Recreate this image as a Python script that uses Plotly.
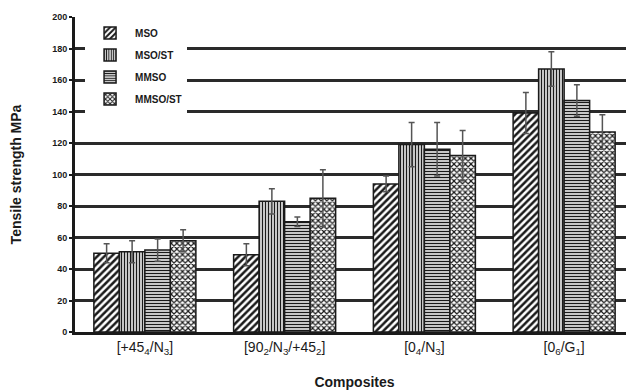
import plotly.graph_objects as go

categories = ["[+45<sub>4</sub>/N<sub>3</sub>]", "[90<sub>2</sub>/N<sub>3</sub>/+45<sub>2</sub>]",
              "[0<sub>4</sub>/N<sub>3</sub>]", "[0<sub>6</sub>/G<sub>1</sub>]"]
series_names = ["MSO", "MSO/ST", "MMSO", "MMSO/ST"]
mso = [50, 49, 94, 139]
mso_err = [6, 7, 5, 13]
mso_st = [51, 83, 119, 167]
mso_st_err = [7, 8, 14, 11]
mmso = [52, 70, 116, 147]
mmso_err = [7, 3, 17, 10]
mmso_st = [58, 85, 112, 127]
mmso_st_err = [7, 18, 16, 11]
y_ticks = list(range(0, 201, 20))

values = [mso, mso_st, mmso, mmso_st]
errors = [mso_err, mso_st_err, mmso_err, mmso_st_err]
patterns = [dict(shape="/", size=5, solidity=0.5),
            dict(shape="|", size=3, solidity=0.5),
            dict(shape="-", size=3, solidity=0.5),
            dict(shape="x", size=4, solidity=0.5)]

fig = go.Figure()
for i, name in enumerate(series_names):
    p = dict(patterns[i])
    p.update(fgcolor="#1a1a1a", bgcolor="white", fillmode="overlay", fgopacity=1)
    fig.add_trace(go.Bar(
        x=categories, y=values[i], name=name, legendgroup=name,
        marker=dict(color="white", line=dict(color="#1a1a1a", width=1.5), pattern=p),
        error_y=dict(type="data", array=errors[i], color="#555555", thickness=1.5, width=3),
    ))

# page body has an 8px default margin; size/margins compensate for it
fig.update_layout(
    width=626, height=384,
    margin=dict(l=67, r=0, t=9, b=60),
    paper_bgcolor="white", plot_bgcolor="white",
    barmode="group", bargap=0.27, bargroupgap=0,
    font=dict(family="Liberation Sans, Arial", color="#1a1a1a"),
    legend=dict(x=0.018, y=0.995, xanchor="left", yanchor="top",
                bgcolor="white", tracegroupgap=3,
                font=dict(size=10, family="Liberation Sans, Arial", weight="bold"),
                itemwidth=40),
    xaxis=dict(showline=True, linecolor="#1a1a1a", linewidth=3, automargin=False,
               tickfont=dict(size=14), ticks="", range=[-0.5, 3.5],
               title=dict(text="Composites", font=dict(size=14, weight="bold"), standoff=22)),
    yaxis=dict(range=[0, 200], tickvals=y_ticks, showgrid=True, gridcolor="#2a2a2a", gridwidth=3,
               showline=True, linecolor="#1a1a1a", linewidth=3, ticks="outside", ticklen=3,
               tickwidth=2, tickcolor="#1a1a1a", automargin=False,
               tickfont=dict(size=9, weight="bold"), zeroline=False,
               title=dict(text="Tensile strength MPa", font=dict(size=14, weight="bold"), standoff=33)),
)
fig.write_html("out.html")
